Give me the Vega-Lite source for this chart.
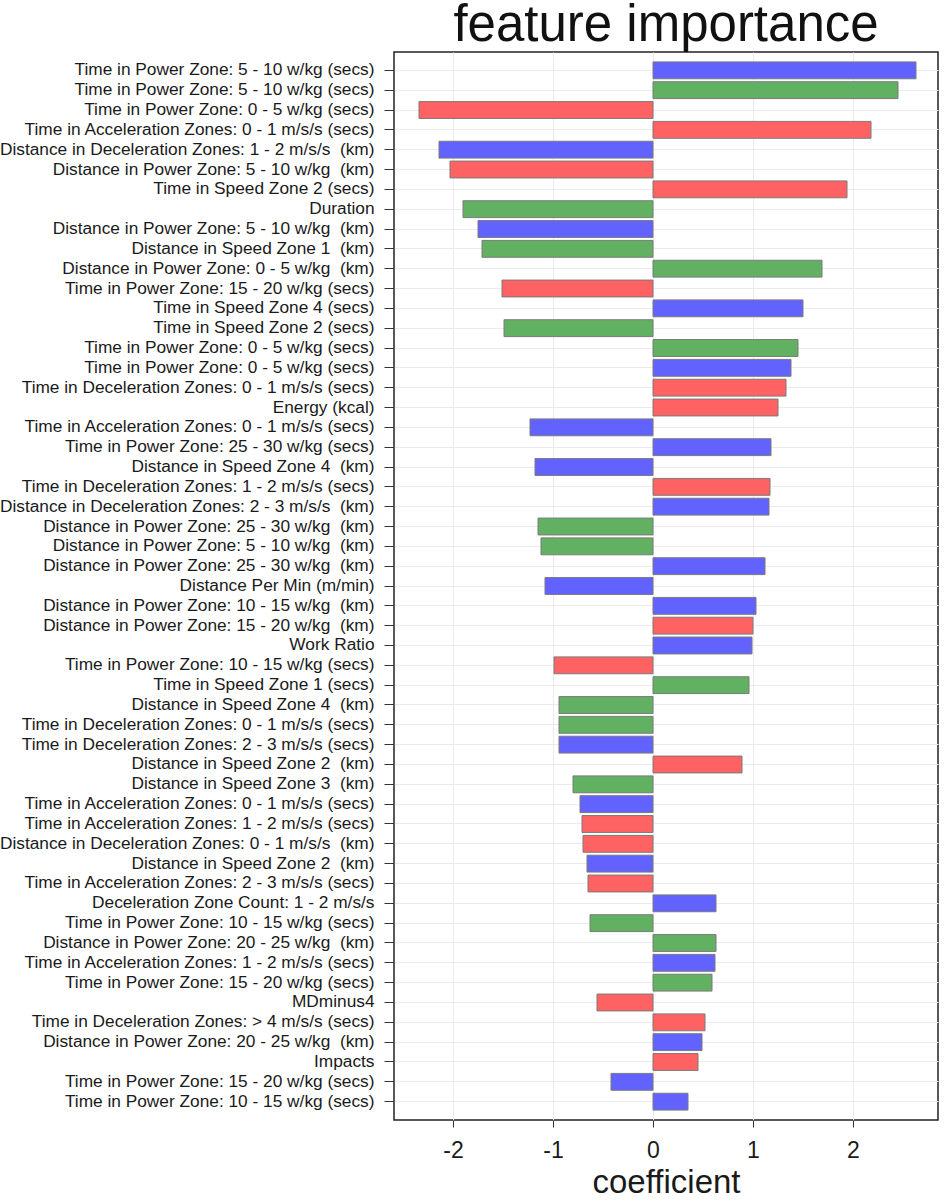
{
  "$schema": "https://vega.github.io/schema/vega-lite/v6.json",
  "autosize": {"type": "none"},
  "width": 544,
  "height": 1068,
  "padding": {"left": 394, "top": 52, "right": 7, "bottom": 80},
  "background": "white",
  "config": {
    "font": "Liberation Sans",
    "view": {"stroke": "#222222", "strokeWidth": 1.5},
    "axis": {"gridColor": "#ebebeb", "gridWidth": 1, "domain": false, "tickColor": "#333333", "labelColor": "#1a1a1a", "titleColor": "#1a1a1a", "labelFont": "Liberation Sans", "titleFont": "Liberation Sans", "titleFontWeight": "normal"}
  },
  "title": {"text": "feature importance", "fontSize": 51, "fontWeight": "normal", "font": "Liberation Sans", "color": "#111111", "anchor": "middle", "frame": "group", "baseline": "alphabetic", "offset": 2, "dy": 42},
  "data": {"values": [
    {"feature": "Time in Power Zone: 5 - 10 w/kg (secs)", "series": "A", "coefficient": 2.63},
    {"feature": " Time in Power Zone: 5 - 10 w/kg (secs)", "series": "B", "coefficient": 2.45},
    {"feature": "Time in Power Zone: 0 - 5 w/kg (secs)", "series": "C", "coefficient": -2.34},
    {"feature": "Time in Acceleration Zones: 0 - 1 m/s/s (secs)", "series": "C", "coefficient": 2.18},
    {"feature": "Distance in Deceleration Zones: 1 - 2 m/s/s \u00a0(km)", "series": "A", "coefficient": -2.14},
    {"feature": "Distance in Power Zone: 5 - 10 w/kg \u00a0(km)", "series": "C", "coefficient": -2.03},
    {"feature": "Time in Speed Zone 2 (secs)", "series": "C", "coefficient": 1.94},
    {"feature": "Duration", "series": "B", "coefficient": -1.90},
    {"feature": " Distance in Power Zone: 5 - 10 w/kg \u00a0(km)", "series": "A", "coefficient": -1.75},
    {"feature": "Distance in Speed Zone 1 \u00a0(km)", "series": "B", "coefficient": -1.71},
    {"feature": "Distance in Power Zone: 0 - 5 w/kg \u00a0(km)", "series": "B", "coefficient": 1.69},
    {"feature": "Time in Power Zone: 15 - 20 w/kg (secs)", "series": "C", "coefficient": -1.51},
    {"feature": "Time in Speed Zone 4 (secs)", "series": "A", "coefficient": 1.50},
    {"feature": " Time in Speed Zone 2 (secs)", "series": "B", "coefficient": -1.49},
    {"feature": " Time in Power Zone: 0 - 5 w/kg (secs)", "series": "B", "coefficient": 1.45},
    {"feature": "  Time in Power Zone: 0 - 5 w/kg (secs)", "series": "A", "coefficient": 1.38},
    {"feature": "Time in Deceleration Zones: 0 - 1 m/s/s (secs)", "series": "C", "coefficient": 1.33},
    {"feature": "Energy (kcal)", "series": "C", "coefficient": 1.25},
    {"feature": " Time in Acceleration Zones: 0 - 1 m/s/s (secs)", "series": "A", "coefficient": -1.23},
    {"feature": "Time in Power Zone: 25 - 30 w/kg (secs)", "series": "A", "coefficient": 1.18},
    {"feature": "Distance in Speed Zone 4 \u00a0(km)", "series": "A", "coefficient": -1.18},
    {"feature": "Time in Deceleration Zones: 1 - 2 m/s/s (secs)", "series": "C", "coefficient": 1.17},
    {"feature": "Distance in Deceleration Zones: 2 - 3 m/s/s \u00a0(km)", "series": "A", "coefficient": 1.16},
    {"feature": "Distance in Power Zone: 25 - 30 w/kg \u00a0(km)", "series": "B", "coefficient": -1.15},
    {"feature": "  Distance in Power Zone: 5 - 10 w/kg \u00a0(km)", "series": "B", "coefficient": -1.12},
    {"feature": " Distance in Power Zone: 25 - 30 w/kg \u00a0(km)", "series": "A", "coefficient": 1.12},
    {"feature": "Distance Per Min (m/min)", "series": "A", "coefficient": -1.08},
    {"feature": "Distance in Power Zone: 10 - 15 w/kg \u00a0(km)", "series": "A", "coefficient": 1.03},
    {"feature": "Distance in Power Zone: 15 - 20 w/kg \u00a0(km)", "series": "C", "coefficient": 1.00},
    {"feature": "Work Ratio", "series": "A", "coefficient": 0.99},
    {"feature": "Time in Power Zone: 10 - 15 w/kg (secs)", "series": "C", "coefficient": -0.99},
    {"feature": "Time in Speed Zone 1 (secs)", "series": "B", "coefficient": 0.96},
    {"feature": " Distance in Speed Zone 4 \u00a0(km)", "series": "B", "coefficient": -0.94},
    {"feature": " Time in Deceleration Zones: 0 - 1 m/s/s (secs)", "series": "B", "coefficient": -0.94},
    {"feature": "Time in Deceleration Zones: 2 - 3 m/s/s (secs)", "series": "A", "coefficient": -0.94},
    {"feature": "Distance in Speed Zone 2 \u00a0(km)", "series": "C", "coefficient": 0.89},
    {"feature": "Distance in Speed Zone 3 \u00a0(km)", "series": "B", "coefficient": -0.80},
    {"feature": "  Time in Acceleration Zones: 0 - 1 m/s/s (secs)", "series": "A", "coefficient": -0.73},
    {"feature": "Time in Acceleration Zones: 1 - 2 m/s/s (secs)", "series": "C", "coefficient": -0.71},
    {"feature": "Distance in Deceleration Zones: 0 - 1 m/s/s \u00a0(km)", "series": "C", "coefficient": -0.70},
    {"feature": " Distance in Speed Zone 2 \u00a0(km)", "series": "A", "coefficient": -0.66},
    {"feature": "Time in Acceleration Zones: 2 - 3 m/s/s (secs)", "series": "C", "coefficient": -0.65},
    {"feature": "Deceleration Zone Count: 1 - 2 m/s/s", "series": "A", "coefficient": 0.63},
    {"feature": " Time in Power Zone: 10 - 15 w/kg (secs)", "series": "B", "coefficient": -0.63},
    {"feature": "Distance in Power Zone: 20 - 25 w/kg \u00a0(km)", "series": "B", "coefficient": 0.63},
    {"feature": " Time in Acceleration Zones: 1 - 2 m/s/s (secs)", "series": "A", "coefficient": 0.62},
    {"feature": " Time in Power Zone: 15 - 20 w/kg (secs)", "series": "B", "coefficient": 0.59},
    {"feature": "MDminus4", "series": "C", "coefficient": -0.56},
    {"feature": "Time in Deceleration Zones: > 4 m/s/s (secs)", "series": "C", "coefficient": 0.52},
    {"feature": " Distance in Power Zone: 20 - 25 w/kg \u00a0(km)", "series": "A", "coefficient": 0.49},
    {"feature": "Impacts", "series": "C", "coefficient": 0.45},
    {"feature": "  Time in Power Zone: 15 - 20 w/kg (secs)", "series": "A", "coefficient": -0.42},
    {"feature": "  Time in Power Zone: 10 - 15 w/kg (secs)", "series": "A", "coefficient": 0.35}
  ]},
  "encoding": {
    "y": {
      "field": "feature", "type": "nominal", "sort": null, "title": null,
      "scale": {"paddingInner": 0.15, "paddingOuter": 0.5},
      "axis": {"labelFontSize": 17.3, "labelLimit": 0, "tickSize": 10, "labelPadding": 10, "grid": true}
    }
  },
  "layer": [
    {
      "mark": {"type": "bar", "stroke": "#7a7a7a", "strokeWidth": 1},
      "encoding": {
        "x": {
          "field": "coefficient", "type": "quantitative", "title": "coefficient",
          "scale": {"domain": [-2.59, 2.85], "nice": false, "zero": false},
          "axis": {"values": [-2, -1, 0, 1, 2], "labelExpr": "datum.value < 0 ? '-' + abs(datum.value) : '' + datum.value", "labelFontSize": 23, "titleFontSize": 33, "tickSize": 7, "labelPadding": 12, "titlePadding": 4, "grid": true}
        },
        "color": {
          "field": "series", "type": "nominal", "legend": null,
          "scale": {"domain": ["A", "B", "C"], "range": ["#6262ff", "#62b162", "#ff6262"]}
        }
      }
    },
    {
      "mark": {"type": "rule", "color": "#111111", "strokeWidth": 2.2},
      "encoding": {"x": {"datum": 0, "type": "quantitative"}}
    }
  ]
}
